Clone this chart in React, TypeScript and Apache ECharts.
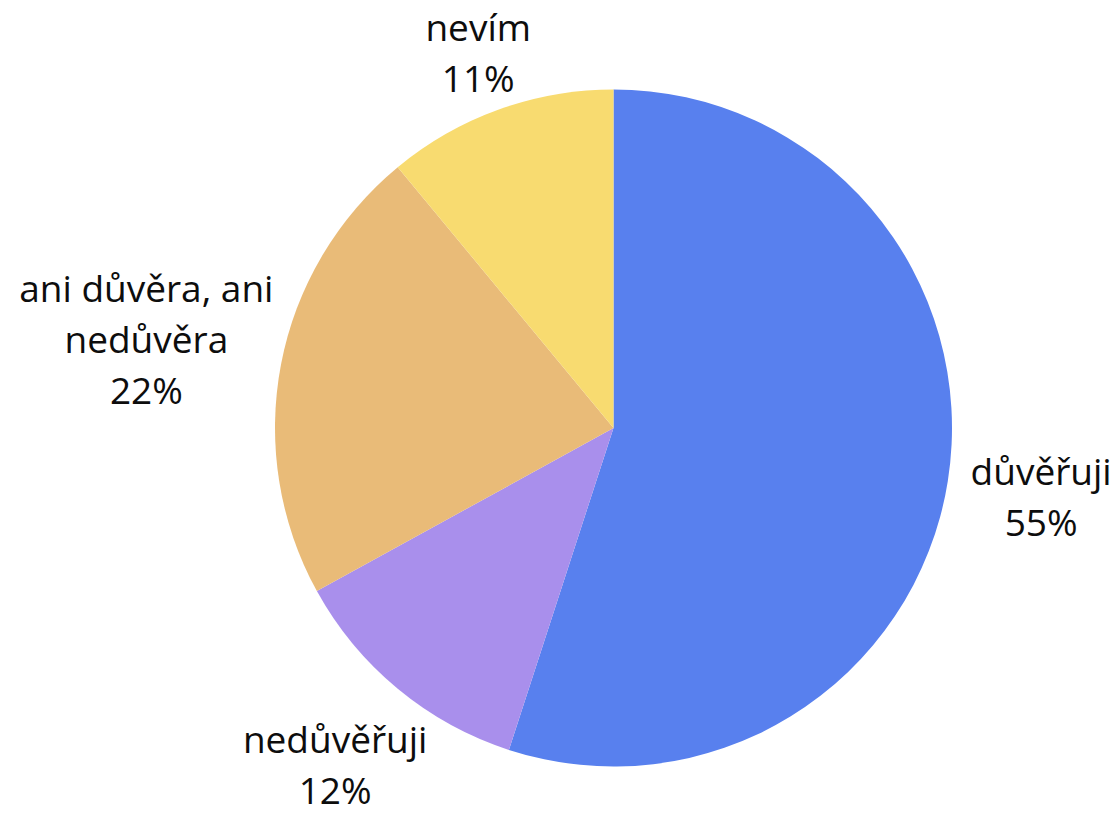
import React, { useEffect, useRef } from "react";
import * as echarts from "echarts";

const categories = ["důvěřuji", "nedůvěřuji", "ani důvěra, ani nedůvěra", "nevím"];
const values = [55, 12, 22, 11];
const colors = ["#5880EE", "#A98FEC", "#E9BB78", "#F8DB70"];
// label distance from centre, as a multiple of the pie radius
const labelDistance = [1.279, 1.29, 1.405, 1.18];

const CX = 613.5;
const CY = 428;
const R = 338.5;

function wrapName(name: string): string {
  const words = name.split(" ");
  const lines: string[] = [];
  let cur = "";
  for (const w of words) {
    const next = cur ? cur + " " + w : w;
    if (next.length > 15 && cur) {
      lines.push(cur);
      cur = w;
    } else cur = next;
  }
  if (cur) lines.push(cur);
  return lines.map((l) => "{name|" + l + "}").join("\n");
}

export default function App() {
  const ref = useRef<HTMLDivElement>(null);
  useEffect(() => {
    if (!ref.current) return;
    const chart = echarts.init(ref.current, undefined, { renderer: "svg" });
    const total = values.reduce((a, b) => a + b, 0);
    const mids: number[] = [];
    let acc = 0;
    values.forEach((v) => {
      mids.push(((acc + v / 2) / total) * Math.PI * 2);
      acc += v;
    });
    chart.setOption({
      animation: false,
      backgroundColor: "#ffffff",
      textStyle: { fontFamily: "Open Sans" },
      series: [
        {
          type: "pie",
          center: [CX, CY],
          radius: R,
          startAngle: 90,
          clockwise: true,
          avoidLabelOverlap: false,
          itemStyle: { borderWidth: 0 },
          emphasis: { disabled: true },
          labelLine: { show: false, length: 10, length2: 0 },
          label: {
            show: true,
            position: "outside",
            color: "#0d0d0d",
            fontFamily: "Open Sans",
            formatter: (p: any) =>
              wrapName(p.name) + "\n{pct|" + Math.round(p.percent) + "%}",
            rich: {
              name: { fontSize: 37, lineHeight: 51, align: "center", color: "#0d0d0d", fontFamily: "Open Sans" },
              pct: { fontSize: 37, lineHeight: 51, align: "center", color: "#0d0d0d", fontFamily: "Open Sans" },
            },
          },
          labelLayout: (params: any) => {
            const i = params.dataIndex;
            const th = mids[i];
            const d = labelDistance[i] * R;
            return {
              x: CX + d * Math.sin(th),
              y: CY - d * Math.cos(th),
              align: "center",
              verticalAlign: "middle",
            };
          },
          data: categories.map((c, i) => ({
            name: c,
            value: values[i],
            itemStyle: { color: colors[i] },
          })),
        },
      ],
    });
    return () => chart.dispose();
  }, []);
  return (
    <div
      ref={ref}
      style={{ position: "fixed", left: 0, top: 0, width: 1120, height: 816 }}
    />
  );
}
